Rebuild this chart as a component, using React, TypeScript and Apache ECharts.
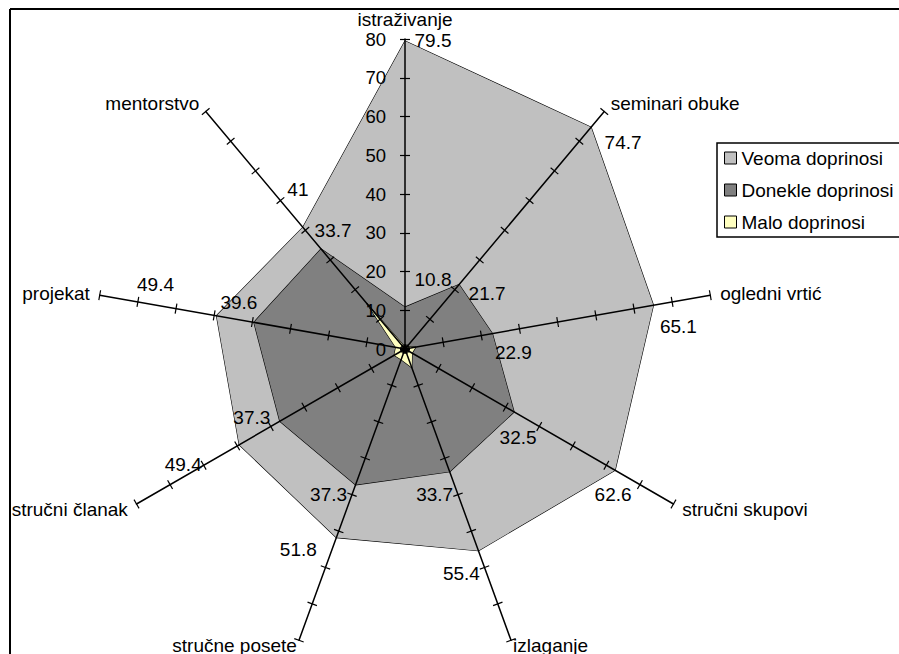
import React, { useEffect, useRef } from 'react';
import * as echarts from 'echarts';

const FONT = '"Liberation Sans", Arial, sans-serif';
const FS = 19;

const categories = [
  'istraživanje',
  'seminari obuke',
  'ogledni vrtić',
  'stručni skupovi',
  'izlaganje',
  'stručne posete',
  'stručni članak',
  'projekat',
  'mentorstvo',
];
const seriesNames = ['Veoma doprinosi', 'Donekle doprinosi', 'Malo doprinosi'];
const veoma = [79.5, 74.7, 65.1, 62.6, 55.4, 51.8, 49.4, 49.4, 41];
const donekle = [10.8, 21.7, 22.9, 32.5, 33.7, 37.3, 37.3, 39.6, 33.7];
const malo = [0.5, 0.8, 2.8, 2.1, 5.1, 2.9, 3.2, 2.4, 15.3];
const axisMin = 0;
const axisMax = 80;
const axisSplits = 8;

// label placement (style only): offset of each value label from its vertex
const veomaLabelOffsets = [[28, 0], [32, 15], [25, 21], [-2, 24], [-17, 23], [-38, 12], [-56, 20], [-61, -31], [-5, -38]];
const donekleLabelOffsets = [[28, -28], [28, 9], [21, 19], [4, 26], [-15, 23], [-27, 10], [-28, -4], [-15, -20], [12, -18]];
// name gap per axis (style only)
const nameGaps = [10, 10, 10, 10, 6, 6, 10, 10, 10];

// ECharts lays radar indicators out counter-clockwise; the reference runs clockwise.
const order = categories.map((_, i) => (i === 0 ? 0 : categories.length - i));
const reorder = <T,>(arr: T[]): T[] => order.map((k) => arr[k]);

function labelItems(values: number[], offsets: number[][]) {
  const vals = reorder(values);
  const offs = reorder(offsets);
  return vals.map((v, i) => ({
    value: vals,
    symbol: 'circle',
    symbolSize: 1,
    itemStyle: { color: 'rgba(0,0,0,0)', borderWidth: 0 },
    lineStyle: { opacity: 0, width: 0 },
    label: {
      show: true,
      position: 'inside',
      offset: offs[i],
      color: '#000',
      fontSize: FS,
      fontFamily: FONT,
      formatter: (p: any) => (p.dimensionIndex === i ? String(v) : ''),
    },
  }));
}

export default function App() {
  const ref = useRef<HTMLDivElement>(null);
  useEffect(() => {
    document.body.style.margin = '0';
    if (!ref.current) return;
    const chart = echarts.init(ref.current, undefined, { renderer: 'svg' });
    const gaps = reorder(nameGaps);
    const indicators = reorder(categories).map((name, i) => ({
      name,
      min: axisMin,
      max: axisMax,
      nameGap: gaps[i],
      ...(i === 0 ? { axisLabel: { show: true } } : {}),
    }));
    const common = {
      center: [405, 349],
      radius: 310,
      startAngle: 90,
      splitNumber: axisSplits,
      shape: 'polygon',
      splitLine: { show: false },
      splitArea: { show: false },
      z: 3,
    };
    const option: any = {
      animation: false,
      backgroundColor: '#fff',
      textStyle: { fontFamily: FONT },
      legend: {
        data: seriesNames,
        orient: 'vertical',
        left: 717,
        top: 143,
        icon: 'rect',
        itemWidth: 12,
        itemHeight: 12,
        itemGap: 12,
        padding: [5, 8, 5, 7],
        borderColor: '#000',
        borderWidth: 1.5,
        backgroundColor: '#fff',
        selectedMode: false,
        textStyle: { fontSize: FS, fontFamily: FONT, color: '#000', lineHeight: 20 },
        itemStyle: { borderColor: '#000', borderWidth: 1 },
      },
      radar: [
        {
          ...common,
          indicator: indicators,
          axisName: { color: '#000', fontSize: FS, fontFamily: FONT },
          nameGap: 10,
          axisLine: { show: true, lineStyle: { color: '#000', width: 1.5 } },
          axisTick: { show: true, length: 5, lineStyle: { color: '#000', width: 1.2 } },
          axisLabel: { show: false, color: '#000', fontSize: 18.5, fontFamily: FONT, margin: 19 },
        },
        {
          ...common,
          indicator: categories.map(() => ({ name: '', min: axisMin, max: axisMax })),
          axisName: { show: false },
          axisLine: { show: false },
          axisTick: { show: true, length: -5, lineStyle: { color: '#000', width: 1.2 } },
          axisLabel: { show: false },
        },
      ],
      series: [
        {
          type: 'radar',
          radarIndex: 0,
          symbol: 'none',
          z: 2,
          data: [
            {
              name: seriesNames[0],
              value: reorder(veoma),
              itemStyle: { color: '#c0c0c0' },
              areaStyle: { color: '#c0c0c0', opacity: 1 },
              lineStyle: { color: '#000', width: 1.2 },
            },
            {
              name: seriesNames[1],
              value: reorder(donekle),
              itemStyle: { color: '#808080' },
              areaStyle: { color: '#808080', opacity: 1 },
              lineStyle: { color: '#000', width: 1.2 },
            },
            {
              name: seriesNames[2],
              value: reorder(malo),
              itemStyle: { color: '#ffffc0' },
              areaStyle: { color: '#ffffc0', opacity: 1 },
              lineStyle: { color: '#000', width: 1.2 },
            },
          ],
        },
        {
          type: 'radar',
          radarIndex: 0,
          silent: true,
          z: 4,
          data: [...labelItems(veoma, veomaLabelOffsets), ...labelItems(donekle, donekleLabelOffsets)],
        },
      ],
      graphic: [
        { type: 'line', z: 10, shape: { x1: 10, y1: 9, x2: 10, y2: 654 }, style: { stroke: '#000', lineWidth: 2 } },
        { type: 'line', z: 10, shape: { x1: 10, y1: 9, x2: 899, y2: 9 }, style: { stroke: '#000', lineWidth: 2 } },
      ],
    };
    chart.setOption(option);
    return () => chart.dispose();
  }, []);
  return <div ref={ref} style={{ width: 899, height: 654 }} />;
}
